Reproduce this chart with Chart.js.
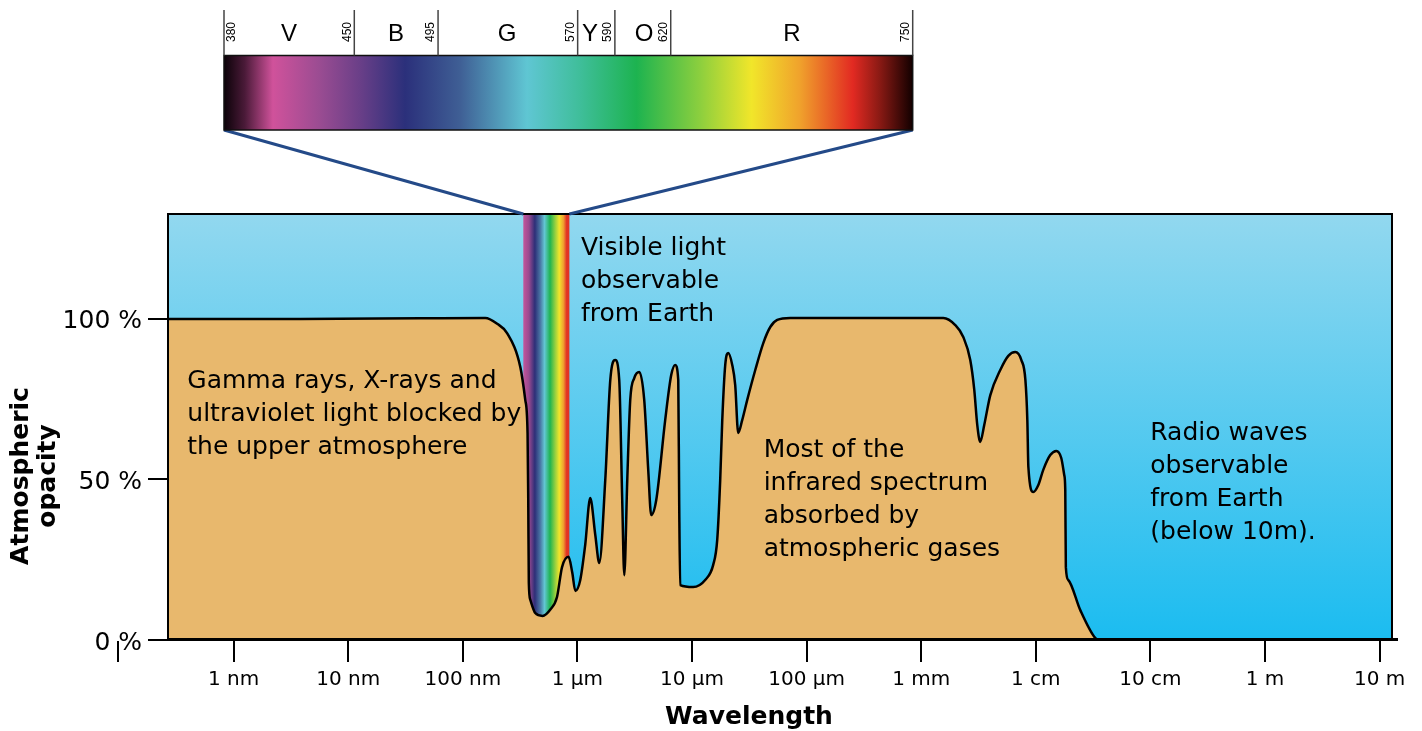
<!DOCTYPE html>
<html><head><meta charset="utf-8">
<script src="https://cdn.jsdelivr.net/npm/chart.js@4.4.0/dist/chart.umd.min.js"></script>
<style>html,body{margin:0;padding:0;background:#fff}#wrap{width:1422px;height:731px}</style>
</head><body><div id="wrap"><canvas id="c" width="1422" height="731"></canvas></div>
<script>
// log10 of wavelength in nanometres
const logWavelength = [
 -0.572, 0.58, 1.63, 2.196, 2.30, 2.386, 2.502, 2.545, 2.565, 2.571, 2.576, 2.589, 2.632, 2.696,
 2.764, 2.822, 2.866, 2.923, 2.955, 2.982, 3.025, 3.068, 3.112, 3.156, 3.191, 3.243, 3.287, 3.330,
 3.365, 3.391, 3.409, 3.435, 3.461, 3.496, 3.540, 3.583, 3.618, 3.644, 3.688, 3.766, 3.819, 3.853,
 3.880, 3.888, 3.897, 4.010, 4.115, 4.185, 4.220, 4.246, 4.264, 4.290, 4.316, 4.351, 4.377, 4.403,
 4.438, 4.482, 4.552, 4.622, 4.683, 4.744, 4.857, 6.193, 6.297, 6.367, 6.428, 6.463, 6.489, 6.515,
 6.550, 6.603, 6.690, 6.760, 6.821, 6.874, 6.909, 6.926, 6.935, 6.978, 7.022, 7.065, 7.126, 7.179,
 7.222, 7.248, 7.257, 7.262, 7.283, 7.388, 7.519, 7.563, 10.108
];
// atmospheric opacity in %
const opacity = [
 100, 100, 100.2, 100.3, 98.5, 95.6, 85.0, 74.8, 64.5, 43.6, 17.8, 12.5, 8.4, 7.5,
 9.5, 13.4, 22.7, 25.9, 21.0, 15.3, 18.7, 29.6, 44.2, 32.7, 24.0, 49.8, 81.0, 87.2,
 81.0, 43.6, 20.2, 49.8, 74.8, 81.6, 83.5, 74.8, 53.0, 38.9, 43.6, 68.5, 82.6, 85.7,
 81.0, 43.6, 17.1, 16.5, 18.7, 23.4, 31.2, 49.8, 68.5, 85.7, 89.4, 85.7, 79.4, 64.5,
 68.5, 74.8, 84.1, 92.5, 97.5, 99.7, 100.3, 100.3, 98.1, 94.4, 87.2, 77.9, 67.0, 61.7,
 67.0, 76.3, 84.1, 88.5, 89.7, 87.2, 81.0, 68.5, 53.9, 46.1, 48.3, 53.0, 57.6, 58.9,
 56.7, 51.4, 46.7, 22.7, 18.7, 9.3, 0.6, 0, 0
];
const xTickExponents = [0,1,2,3,4,5,6,7,8,9,10];
const xTickLabels = ['1 nm','10 nm','100 nm','1 \u00b5m','10 \u00b5m','100 \u00b5m','1 mm','1 cm','10 cm','1 m','10 m'];
const yTickValues = [0,50,100];
const yTickLabels = ['0 %','50 %','100 %'];
const visibleBandLog = [2.528, 2.930];
const spectrumBoundsNm = [380,450,495,570,590,620,750];
const spectrumBands = ['V','B','G','Y','O','R'];
const annotationTexts = [
  ['Gamma rays, X-rays and','ultraviolet light blocked by','the upper atmosphere'],
  ['Visible light','observable','from Earth'],
  ['Most of the','infrared spectrum','absorbed by','atmospheric gases'],
  ['Radio waves','observable','from Earth','(below 10m).']
];
const xTitle = 'Wavelength';
const yTitle = ['Atmospheric','opacity'];

const FONT = '"DejaVu Sans", Verdana, sans-serif';

function addStops(g, stops){ stops.forEach(s=>g.addColorStop(s[0], s[1])); }
const spectrumStops = [
 [0,'#0b0208'],[0.03,'#4a1a38'],[0.071,'#d0529b'],[0.139,'#9a4c92'],[0.197,'#6a3f88'],
 [0.263,'#2b307b'],[0.343,'#3f5f95'],[0.44,'#5fc6d3'],[0.517,'#3fbe9a'],[0.599,'#1db350'],
 [0.691,'#8ccf3e'],[0.766,'#f1e62a'],[0.836,'#f0a22c'],[0.913,'#e22a22'],[0.952,'#8a1a14'],[1,'#120000']
];
const stripStops = [
 [0,'#c4559a'],[0.12,'#9a4a90'],[0.25,'#2e2f78'],[0.37,'#4a78a5'],[0.46,'#62c6d3'],
 [0.58,'#1fb451'],[0.7,'#9ed23e'],[0.78,'#f1e52a'],[0.87,'#f0a030'],[0.94,'#e23324'],[1,'#e23324']
];

const decor = {
  id: 'decor',
  beforeDraw(chart){
    const {ctx, chartArea:a} = chart;
    ctx.save();
    ctx.fillStyle = '#fff';
    ctx.fillRect(0,0,chart.width,chart.height);
    const g = ctx.createLinearGradient(0,a.top,0,a.bottom);
    g.addColorStop(0,'#92d8ef'); g.addColorStop(1,'#1bbcf0');
    ctx.fillStyle = g;
    ctx.fillRect(a.left,a.top,a.right-a.left,a.bottom-a.top);
    ctx.restore();
  },
  beforeDatasetsDraw(chart){
    const {ctx, chartArea:a, scales:{x}} = chart;
    const x1 = x.getPixelForValue(visibleBandLog[0]), x2 = x.getPixelForValue(visibleBandLog[1]);
    ctx.save();
    const g = ctx.createLinearGradient(x1,0,x2,0); addStops(g, stripStops);
    ctx.fillStyle = g;
    ctx.fillRect(x1,a.top,x2-x1,a.bottom-a.top);
    ctx.restore();
  },
  afterDatasetsDraw(chart){
    const {ctx, chartArea:a, scales:{x,y}} = chart;
    ctx.save();
    // frame
    ctx.strokeStyle = '#000'; ctx.lineWidth = 2;
    ctx.strokeRect(a.left,a.top,a.right-a.left,a.bottom-a.top);
    ctx.lineWidth = 3;
    ctx.beginPath(); ctx.moveTo(a.left,a.bottom-0.5); ctx.lineTo(a.right+6,a.bottom-0.5); ctx.stroke();
    // stray tick
    ctx.lineWidth = 2;
    ctx.beginPath(); ctx.moveTo(118,a.bottom+1); ctx.lineTo(118,a.bottom+22); ctx.stroke();
    // annotations
    ctx.fillStyle = '#000';
    ctx.font = '25px ' + FONT;
    ctx.textAlign = 'left'; ctx.textBaseline = 'alphabetic';
    const anchors = [[-0.404,78.5],[3.031,119.9],[4.625,57.1],[7.999,62.3]];
    annotationTexts.forEach((lines,i)=>{
      const px = x.getPixelForValue(anchors[i][0]);
      const py = y.getPixelForValue(anchors[i][1]);
      lines.forEach((t,j)=>ctx.fillText(t, px, py + j*33));
    });
    // axis titles
    ctx.font = 'bold 25px ' + FONT;
    ctx.textAlign = 'center'; ctx.textBaseline = 'middle';
    ctx.fillText(xTitle, 749, 717);
    ctx.save();
    ctx.translate(0, 476); ctx.rotate(-Math.PI/2);
    yTitle.forEach((t,j)=>ctx.fillText(t, 0, 21 + j*27));
    ctx.restore();
    // spectrum bar
    const L = 224, R = 912.7, T = 55.5, B = 130;
    const nmToPx = nm => L + (nm - spectrumBoundsNm[0])/(spectrumBoundsNm[spectrumBoundsNm.length-1]-spectrumBoundsNm[0])*(R-L);
    // connectors
    ctx.strokeStyle = '#244a88'; ctx.lineWidth = 3;
    const v1 = x.getPixelForValue(visibleBandLog[0]), v2 = x.getPixelForValue(visibleBandLog[1]);
    ctx.beginPath(); ctx.moveTo(L,B); ctx.lineTo(v1,a.top); ctx.stroke();
    ctx.beginPath(); ctx.moveTo(R,B); ctx.lineTo(v2,a.top); ctx.stroke();
    const g = ctx.createLinearGradient(L,0,R,0); addStops(g, spectrumStops);
    ctx.fillStyle = g; ctx.fillRect(L,T,R-L,B-T);
    ctx.strokeStyle = '#111'; ctx.lineWidth = 1.5; ctx.strokeRect(L,T,R-L,B-T);
    ctx.strokeStyle = '#444'; ctx.lineWidth = 1.5;
    spectrumBoundsNm.forEach(nm=>{
      const px = nmToPx(nm);
      ctx.beginPath(); ctx.moveTo(px,10); ctx.lineTo(px,T); ctx.stroke();
    });
    ctx.fillStyle = '#000';
    ctx.font = '24px "Liberation Sans", Arial, sans-serif';
    ctx.textAlign = 'center'; ctx.textBaseline = 'middle';
    const bandCenters = [289, 396, 507, 590, 644, 792];
    spectrumBands.forEach((b,i)=>ctx.fillText(b, bandCenters[i], 34));
    ctx.font = '12px "Liberation Sans", Arial, sans-serif';
    spectrumBoundsNm.forEach((nm,i)=>{
      const px = nmToPx(nm) + (i===0 ? 8 : -7);
      ctx.save(); ctx.translate(px, 32); ctx.rotate(-Math.PI/2);
      ctx.fillText(String(nm), 0, 0); ctx.restore();
    });
    ctx.restore();
  }
};

new Chart(document.getElementById('c'), {
  type: 'line',
  data: {
    datasets: [{
      data: logWavelength.map((v,i)=>({x:v, y:opacity[i]})),
      borderColor: '#000', borderWidth: 2.5,
      backgroundColor: '#e8b86d', fill: 'origin',
      pointRadius: 0, cubicInterpolationMode: 'monotone'
    }]
  },
  options: {
    responsive: false, animation: false, devicePixelRatio: 1,
    layout: { padding: { top: 214, right: 30, left: 0, bottom: 0 } },
    plugins: { legend: {display:false}, tooltip: {enabled:false} },
    scales: {
      x: {
        type: 'linear', min: -0.5724, max: 10.108,
        afterBuildTicks: s => { s.ticks = xTickExponents.map(v=>({value:v})); },
        afterFit: s => { s.height = 91; },
        ticks: { autoSkip:false, maxRotation:0, color:'#000', padding: 6,
          font: { family: FONT, size: 20 },
          callback: (v,i) => xTickLabels[i] },
        grid: { drawOnChartArea:false, drawTicks:true, tickLength:22, color:'#000', lineWidth:2, tickWidth:2 },
        border: { display:true, color:'#000', width:2 }
      },
      y: {
        type: 'linear', min: 0, max: 132.7,
        afterBuildTicks: s => { s.ticks = yTickValues.map(v=>({value:v})); },
        afterFit: s => { s.width = 168; },
        ticks: { color:'#000', padding: 6, labelOffset: 3, font: { family: FONT, size: 25 },
          callback: (v,i) => yTickLabels[i] },
        grid: { drawOnChartArea:false, drawTicks:true, tickLength:20, color:'#000', lineWidth:2, tickWidth:2 },
        border: { display:true, color:'#000', width:2 }
      }
    }
  },
  plugins: [decor]
});
</script></body></html>
